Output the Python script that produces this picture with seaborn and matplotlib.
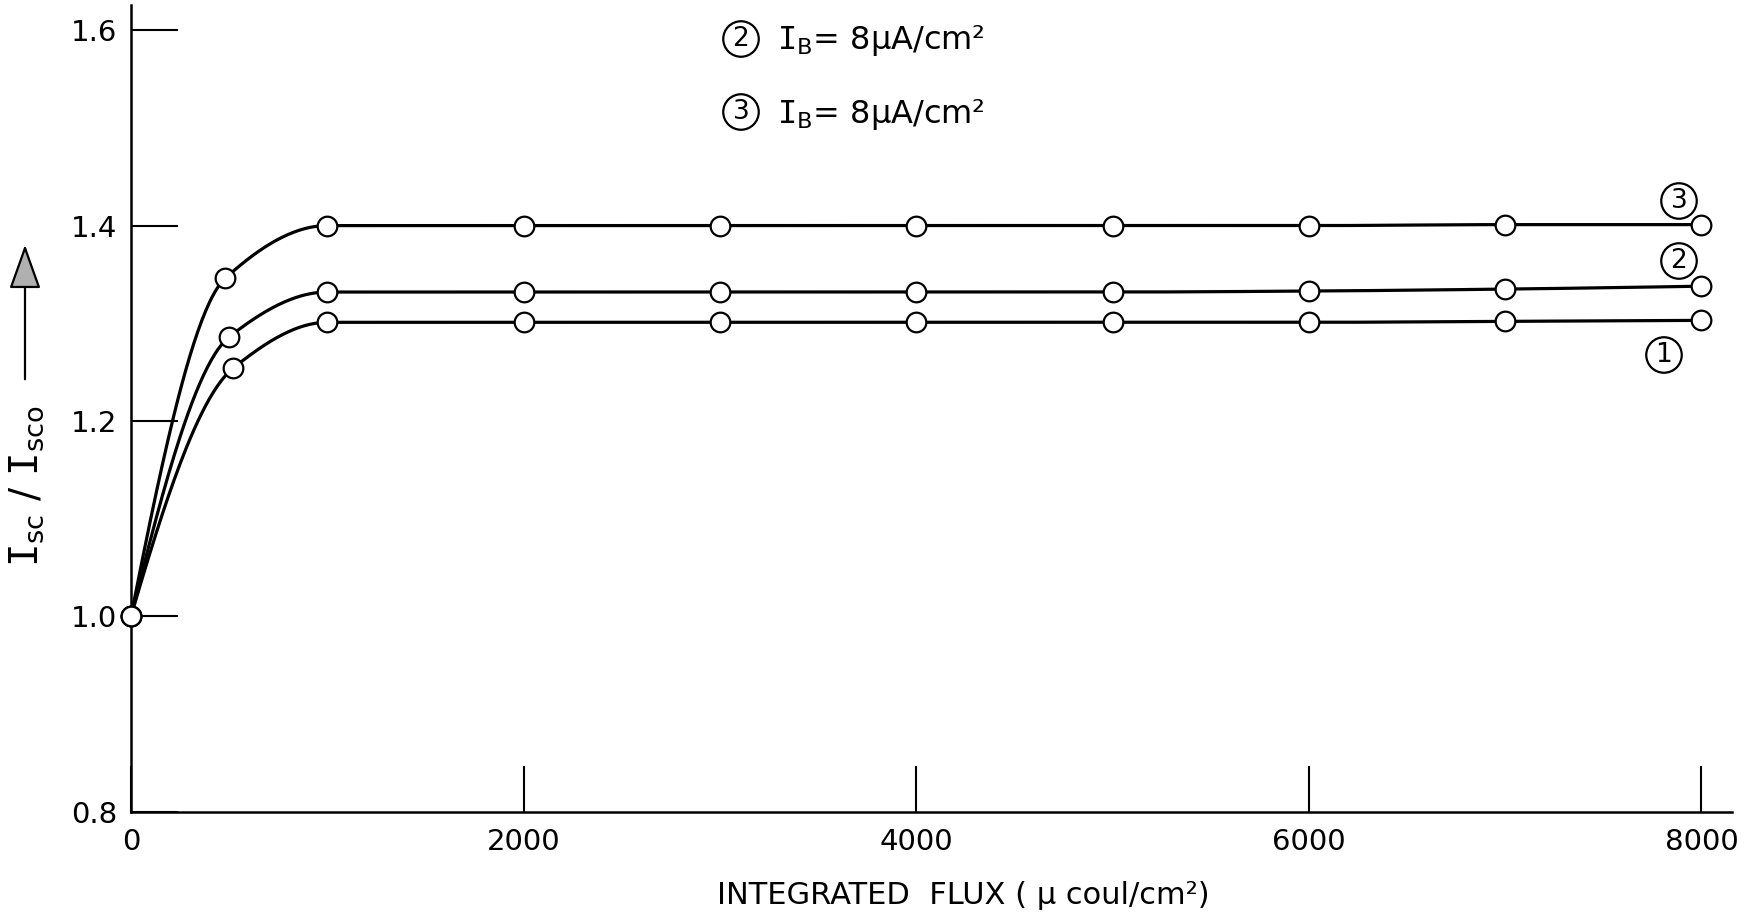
import numpy as np
import pandas as pd
import matplotlib
matplotlib.use("Agg")
import matplotlib.pyplot as plt
import seaborn as sns

# ---- data ----
flux_1 = [0, 520, 1000, 2000, 3000, 4000, 5000, 6000, 7000, 8000]
ratio_1 = [1.00, 1.254, 1.301, 1.301, 1.301, 1.301, 1.301, 1.301, 1.302, 1.303]
flux_2 = [0, 500, 1000, 2000, 3000, 4000, 5000, 6000, 7000, 8000]
ratio_2 = [1.00, 1.286, 1.332, 1.332, 1.332, 1.332, 1.332, 1.333, 1.335, 1.338]
flux_3 = [0, 480, 1000, 2000, 3000, 4000, 5000, 6000, 7000, 8000]
ratio_3 = [1.00, 1.346, 1.400, 1.400, 1.400, 1.400, 1.400, 1.400, 1.401, 1.401]
series_names = ["1", "2", "3"]
x_ticks = [0, 2000, 4000, 6000, 8000]
y_ticks = [0.8, 1.0, 1.2, 1.4, 1.6]
legend_lines = ["$\\mathtt{I}_\\mathrm{B}$= 8\u03bcA/cm\u00b2", "$\\mathtt{I}_\\mathrm{B}$= 8\u03bcA/cm\u00b2"]
legend_marks = ["2", "3"]
end_marks = ["3", "2", "1"]


def pchip(x, y, xn):
    x = np.asarray(x, float); y = np.asarray(y, float)
    h = np.diff(x); d = np.diff(y) / h
    n = len(x); m = np.zeros(n)
    for k in range(1, n - 1):
        if d[k - 1] * d[k] > 0:
            w1 = 2 * h[k] + h[k - 1]; w2 = h[k] + 2 * h[k - 1]
            m[k] = (w1 + w2) / (w1 / d[k - 1] + w2 / d[k])
    def end(h0, h1, d0, d1):
        s = ((2 * h0 + h1) * d0 - h0 * d1) / (h0 + h1)
        if np.sign(s) != np.sign(d0):
            s = 0
        elif np.sign(d0) != np.sign(d1) and abs(s) > abs(3 * d0):
            s = 3 * d0
        return s
    m[0] = end(h[0], h[1], d[0], d[1])
    m[-1] = end(h[-1], h[-2], d[-1], d[-2])
    idx = np.clip(np.searchsorted(x, xn) - 1, 0, n - 2)
    t = (xn - x[idx]) / h[idx]
    h00 = 2 * t**3 - 3 * t**2 + 1; h10 = t**3 - 2 * t**2 + t
    h01 = -2 * t**3 + 3 * t**2; h11 = t**3 - t**2
    return h00 * y[idx] + h10 * h[idx] * m[idx] + h01 * y[idx + 1] + h11 * h[idx] * m[idx + 1]


pts = pd.concat([
    pd.DataFrame({"flux": f, "ratio": r, "series": s})
    for f, r, s in zip([flux_1, flux_2, flux_3], [ratio_1, ratio_2, ratio_3], series_names)
], ignore_index=True)

curves = []
for f, r, s in zip([flux_1, flux_2, flux_3], [ratio_1, ratio_2, ratio_3], series_names):
    xs = np.linspace(0, f[-1], 800)
    curves.append(pd.DataFrame({"flux": xs, "ratio": pchip(f, r, xs), "series": s}))
curves = pd.concat(curves, ignore_index=True)

sns.set_theme(style="white")
plt.rcParams["font.family"] = ["DejaVu Sans"]
plt.rcParams["mathtext.fontset"] = "dejavusans"

W, H = 1754, 922
fig = plt.figure(figsize=(W / 100, H / 100), dpi=100)
ax = fig.add_axes([131 / W, 1 - 811.8 / H, (1732 - 131) / W, (811.8 - 5) / H])

sns.lineplot(data=curves, x="flux", y="ratio", units="series", estimator=None,
             color="black", linewidth=2.3, ax=ax, legend=False, sort=False)
sns.scatterplot(data=pts, x="flux", y="ratio", color="white", edgecolor="black",
                linewidth=1.6, s=200, ax=ax, legend=False, zorder=5, clip_on=False)

x_per_px = 8000 / (1701.4 - 130.9)
y_per_px = 0.6 / (616.4 - 30.2)
ax.set_xlim(0, (1732 - 130.9) * x_per_px)
ax.set_ylim(0.8, 0.8 + (811.8 - 5) * y_per_px)

for side in ["top", "right"]:
    ax.spines[side].set_visible(False)
for side in ["left", "bottom"]:
    ax.spines[side].set_color("black")
    ax.spines[side].set_linewidth(1.8)

ax.set_xticks(x_ticks)
ax.set_xticklabels([str(v) for v in x_ticks])
ax.set_yticks(y_ticks)
ax.set_yticklabels([f"{v:.1f}" for v in y_ticks])
ax.tick_params(axis="both", which="major", bottom=True, left=True, direction="in",
               width=1.5, color="black", labelsize=21, labelcolor="black")
ax.tick_params(axis="x", length=33, pad=12)
ax.tick_params(axis="y", length=34, pad=10)
ax.set_xlabel("")
ax.set_ylabel("")

circ = dict(boxstyle="circle,pad=0.18", fc="none", ec="black", lw=1.6)

# end labels
for lab, (xp, yp) in zip(end_marks, [(1679, 201), (1679, 261), (1664, 355)]):
    fig.text(xp / W, 1 - yp / H, lab, fontsize=19, ha="center", va="center",
             color="black", bbox=circ)

# top legend text
for mark, txt, yp in zip(legend_marks, legend_lines, [39, 112]):
    fig.text(741 / W, 1 - yp / H, mark, fontsize=19, ha="center", va="center",
             color="black", bbox=circ)
    fig.text(777 / W, 1 - (yp + 2) / H, txt, fontsize=23, ha="left", va="center", color="black")

# axis labels
fig.text(963 / W, 1 - 895 / H, "INTEGRATED  FLUX ( \u03bc coul/cm\u00b2)", fontsize=22,
         ha="center", va="center", color="black")
fig.text(27 / W, 1 - 486 / H, "$\\mathtt{I}_\\mathrm{sc}$ / $\\mathtt{I}_\\mathrm{sco}$",
         fontsize=28, rotation=90, ha="center", va="center", color="black")
fig.patches.append(matplotlib.patches.FancyArrowPatch(
    (25 / W, 1 - 382 / H), (25 / W, 1 - 242 / H), transform=fig.transFigure,
    arrowstyle="-|>,head_length=0.7,head_width=0.25", mutation_scale=40,
    linewidth=1.6, edgecolor="black", facecolor="#b0b0b0"))

fig.savefig("out.png", dpi=100, facecolor="white")
